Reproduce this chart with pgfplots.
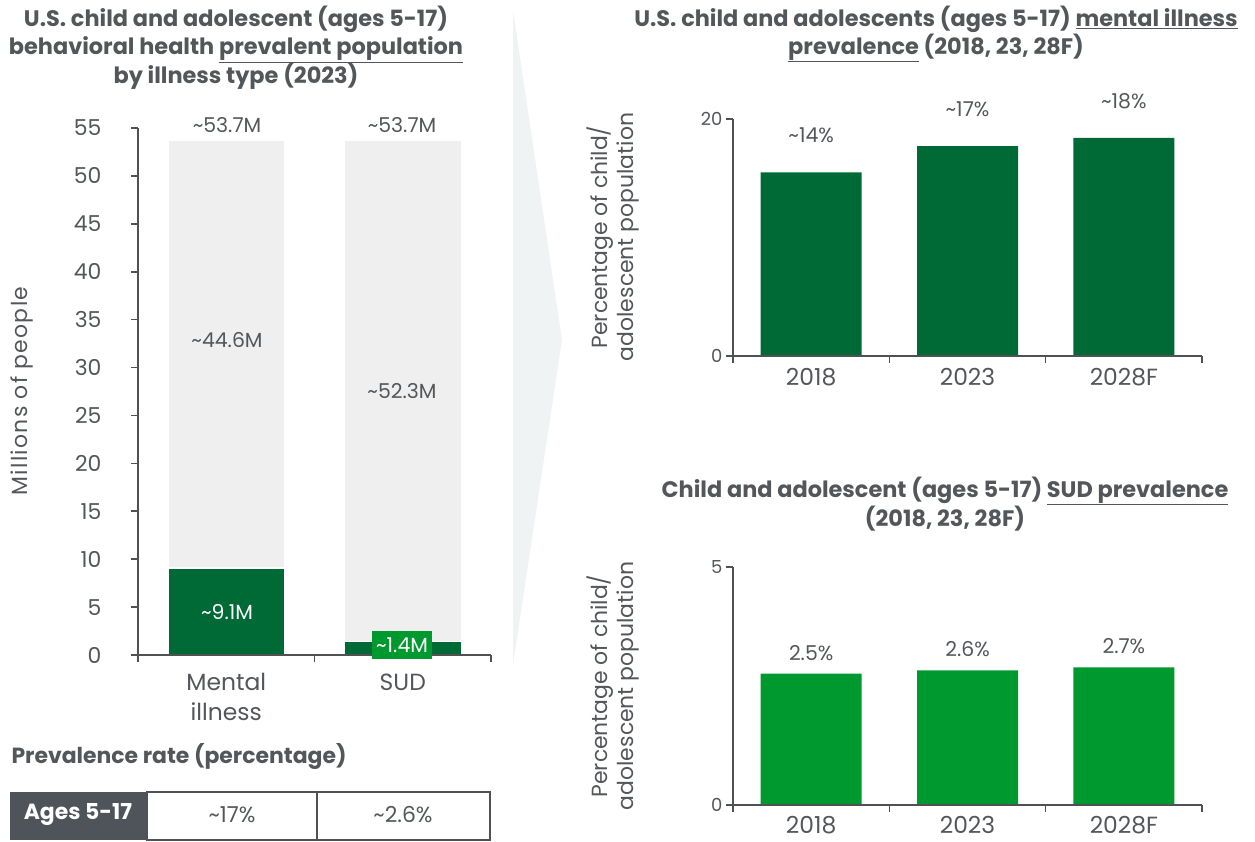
\documentclass[border=0pt]{standalone}
\usepackage{fontspec}
\setmainfont{Poppins}
\usepackage{pgfplots}
\pgfplotsset{compat=1.18}
\definecolor{txt}{HTML}{53575A}
\definecolor{axisc}{HTML}{4F5153}
\definecolor{dgreen}{HTML}{006A37}
\definecolor{bgreen}{HTML}{00992F}
\definecolor{lgray}{HTML}{EFEFEF}
\definecolor{chev}{HTML}{F0F3F4}
\definecolor{cell}{HTML}{4E5459}
\newcommand{\tld}{\textasciitilde}
\newcommand{\fs}[1]{\fontsize{#1}{28}\selectfont}
\begin{document}
\begin{tikzpicture}
\begin{scope}[x=1bp,y=-1bp,shift={(0bp,842bp)}]
\path (0,0) rectangle (1255,842);
\fill[chev] (513,10) -- (562,340) -- (513,665) -- cycle;

% ---------- titles ----------
\node[font=\bfseries\fontsize{22.5}{28}\selectfont, text=txt, align=center] at (236,48)
  {U.S. child and adolescent (ages 5-17)\\behavioral health \underline{prevalent population}\\by illness type (2023)};
\node[font=\bfseries\fontsize{22.5}{28}\selectfont, text=txt, align=center] at (936,34)
  {U.S. child and adolescents (ages 5-17) \underline{mental illness}\\\underline{prevalence} (2018, 23, 28F)};
\node[font=\bfseries\fontsize{22.5}{28}\selectfont, text=txt, align=center] at (945,504)
  {Child and adolescent (ages 5-17) \underline{SUD prevalence}\\(2018, 23, 28F)};

\node[rotate=90, text=txt, font=\fs{22}\addfontfeatures{LetterSpace=6}] at (22,391) {Millions of people};
\node[rotate=90, text=txt, font=\fontsize{22}{27}\selectfont, align=center] at (613,237) {Percentage of child/\\adolescent population};
\node[rotate=90, text=txt, font=\fontsize{22}{27}\selectfont, align=center] at (613,686) {Percentage of child/\\adolescent population};

% ---------- prevalence table ----------
\node[anchor=west, text=txt, font=\bfseries\fontsize{22}{27}\selectfont] at (8,757) {Prevalence rate (percentage)};
\fill[cell] (10,792) rectangle (147,840);
\draw[axisc, line width=1.6bp] (147,792) rectangle (490,840);
\draw[axisc, line width=1.6bp] (317,792) -- (317,840);
\node[text=white, font=\bfseries\fontsize{22}{27}\selectfont] at (78,815) {Ages 5-17};
\node[text=txt, font=\fs{22}] at (232,815) {\tld17\%};
\node[text=txt, font=\fs{22}] at (403,815) {\tld2.6\%};
\end{scope}

% ---------- left stacked chart ----------
\begin{axis}[at={(138bp,187bp)}, anchor=south west, scale only axis,
  width=353bp, height=527bp,
  xmin=-0.5, xmax=1.5, ymin=0, ymax=55,
  axis lines=left, axis line style={-, draw=axisc, line width=1.6bp},
  axis on top, clip=false,
  ybar stacked, bar width=117bp,
  ytick={0,5,...,55},
  xtick={-0.5,0.5,1.5}, xticklabels={},
  extra x ticks={0,1}, extra x tick labels={Mental\\illness,SUD},
  extra x tick style={major tick length=0pt, xticklabel style={align=center, yshift=-15bp}},
  tick align=outside, major tick length=7bp,
  tick style={draw=axisc, line width=1.6bp},
  xticklabel style={font=\fontsize{23.5}{30}\selectfont, text=txt},
  yticklabel style={font=\fontsize{22}{29}\selectfont, text=txt, xshift=-26bp},
  /pgf/number format/assume math mode=true,
]
\addplot[fill=dgreen, draw=white, line width=1.5bp] coordinates {(0,9.1) (1,1.4)};
\addplot[fill=lgray, draw=white, line width=1.5bp] coordinates {(0,44.6) (1,52.3)};
\end{axis}

% ---------- top right chart ----------
\begin{axis}[at={(733bp,486bp)}, anchor=south west, scale only axis,
  width=469bp, height=237bp,
  xmin=-0.5, xmax=2.5, ymin=0, ymax=20,
  axis lines=left, axis line style={-, draw=axisc, line width=1.6bp},
  axis on top, clip=false,
  ybar, bar width=101bp,
  ytick={0,20},
  xtick={-0.5,0.5,1.5,2.5}, xticklabels={},
  extra x ticks={0,1,2}, extra x tick labels={2018,2023,2028F},
  extra x tick style={major tick length=0pt, xticklabel style={yshift=-9bp}},
  tick align=outside, major tick length=7bp,
  tick style={draw=axisc, line width=1.6bp},
  xticklabel style={font=\fontsize{23.5}{29}\selectfont, text=txt},
  yticklabel style={font=\fontsize{18}{22}\selectfont, text=txt},
  /pgf/number format/assume math mode=true,
  nodes near coords, point meta=explicit symbolic,
  nodes near coords style={anchor=center, yshift=37bp, text=txt, font=\fs{20.5}},
]
\addplot[fill=dgreen, draw=none] coordinates {(0,15.5) [\tld14\%] (1,17.7) [\tld17\%] (2,18.4) [\tld18\%]};
\end{axis}

% ---------- bottom right chart ----------
\begin{axis}[at={(733bp,37bp)}, anchor=south west, scale only axis,
  width=469bp, height=238bp,
  xmin=-0.5, xmax=2.5, ymin=0, ymax=5,
  axis lines=left, axis line style={-, draw=axisc, line width=1.6bp},
  axis on top, clip=false,
  ybar, bar width=101bp,
  ytick={0,5},
  xtick={-0.5,0.5,1.5,2.5}, xticklabels={},
  extra x ticks={0,1,2}, extra x tick labels={2018,2023,2028F},
  extra x tick style={major tick length=0pt, xticklabel style={yshift=-8bp}},
  tick align=outside, major tick length=7bp,
  tick style={draw=axisc, line width=1.6bp},
  xticklabel style={font=\fontsize{23.5}{29}\selectfont, text=txt},
  yticklabel style={font=\fontsize{18}{22}\selectfont, text=txt},
  /pgf/number format/assume math mode=true,
  nodes near coords, point meta=explicit symbolic,
  nodes near coords style={anchor=center, yshift=21bp, text=txt, font=\fs{20.5}},
]
\addplot[fill=bgreen, draw=none] coordinates {(0,2.76) [2.5\%] (1,2.83) [2.6\%] (2,2.89) [2.7\%]};
\end{axis}

% ---------- labels on the stacked bars ----------
\begin{scope}[x=1bp,y=-1bp,shift={(0bp,842bp)}]
\node[text=txt, font=\fs{20.5}] at (227,125) {\tld53.7M};
\node[text=txt, font=\fs{20.5}] at (402,125) {\tld53.7M};
\node[text=txt, font=\fs{20.5}] at (227,340) {\tld44.6M};
\node[text=txt, font=\fs{20.5}] at (402,391) {\tld52.3M};
\node[text=white, font=\fs{20.5}] at (227,612) {\tld9.1M};
\node[text=white, font=\fs{20.5}, fill=bgreen, minimum height=28bp, inner xsep=4bp] at (402,645) {\tld1.4M};
\end{scope}
\end{tikzpicture}
\end{document}
